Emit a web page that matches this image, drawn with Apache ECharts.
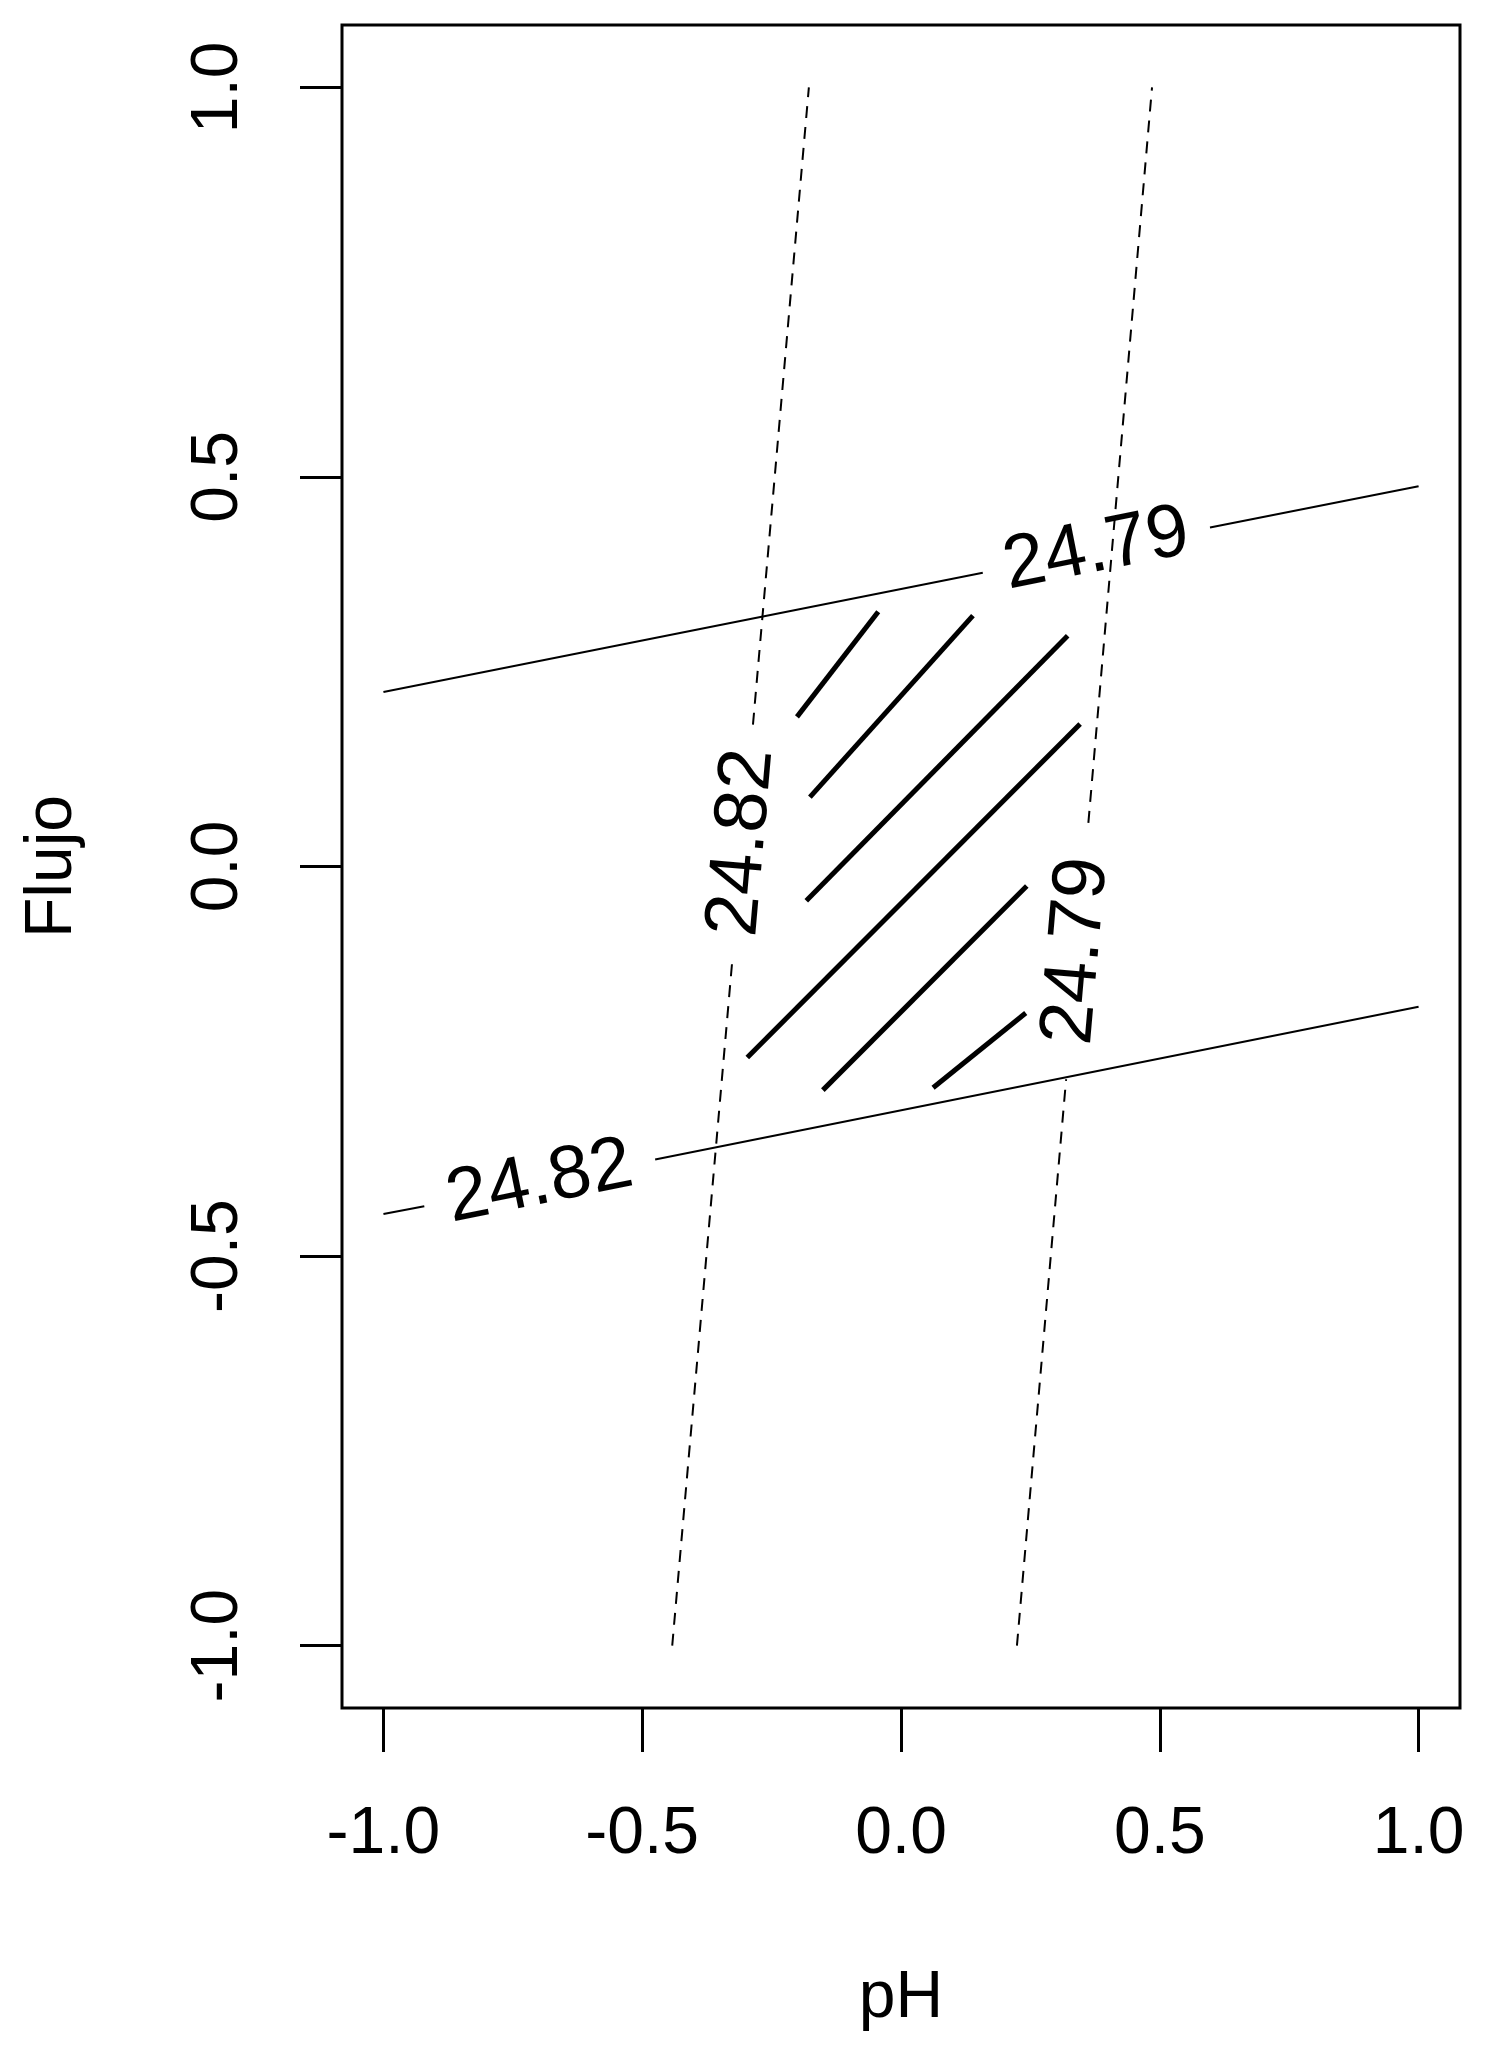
<!DOCTYPE html>
<html>
<head>
<meta charset="utf-8">
<script src="https://cdn.jsdelivr.net/npm/echarts@6/dist/echarts.min.js"></script>
<style>
  html, body { margin: 0; background: #fff; }
  #chart { width: 1507px; height: 2059px; }
</style>
</head>
<body>
<div id="chart"></div>
<script>
// axis ticks
const xTicks = [-1, -0.5, 0, 0.5, 1];
const yTicks = [-1, -0.5, 0, 0.5, 1];

// contour lines as [pH, Flujo]; the label sits in the gap between point 1 and point 2
const solidTop = [[-1.0, 0.224], [0.158, 0.377], [0.597, 0.435], [1.0, 0.488]];
const solidBottom = [[-1.0, -0.446], [-0.921, -0.436], [-0.475, -0.376], [1.0, -0.180]];
const dashedLeft = [[-0.442, -1.0], [-0.326, -0.121], [-0.286, 0.182], [-0.178, 1.0]];
const dashedRight = [[0.224, -1.0], [0.319, -0.273], [0.362, 0.056], [0.485, 1.0]];
const contourLevels = ['24.79', '24.82', '24.82', '24.79'];

// hatch strokes inside the feasible region
const hatch = [
  [[-0.201, 0.192], [-0.044, 0.327]],
  [[-0.176, 0.089], [0.139, 0.322]],
  [[-0.183, -0.044], [0.322, 0.296]],
  [[-0.297, -0.245], [0.346, 0.183]],
  [[-0.151, -0.287], [0.243, -0.025]],
  [[0.062, -0.284], [0.241, -0.188]]
];

const contours = [solidTop, solidBottom, dashedLeft, dashedRight];
const isDashed = [false, false, true, true];

const font = 'Liberation Sans, Arial, sans-serif';
const chart = echarts.init(document.getElementById('chart'));

const series = [];
contours.forEach((pts, i) => {
  // two pieces so the label has room
  [pts.slice(0, 2), pts.slice(2)].forEach(seg => {
    series.push({
      type: 'line',
      data: seg,
      symbol: 'none',
      silent: true,
      lineStyle: { color: '#000', width: 2, type: isDashed[i] ? [12, 9] : 'solid' }
    });
  });
});
hatch.forEach(seg => {
  series.push({
    type: 'line',
    data: seg,
    symbol: 'none',
    silent: true,
    lineStyle: { color: '#000', width: 5, cap: 'butt' }
  });
});

const option = {
  animation: false,
  grid: {
    left: 342, top: 25, width: 1118, height: 1683,
    show: true, borderColor: '#000', borderWidth: 3,
    outerBoundsMode: 'none'
  },
  xAxis: {
    type: 'value', min: -1.08, max: 1.08,
    name: 'pH', nameLocation: 'middle', nameGap: 258,
    nameTextStyle: { fontSize: 66, fontFamily: font, color: '#000' },
    axisLine: { show: false, onZero: false },
    splitLine: { show: false },
    axisTick: { customValues: xTicks, length: 44, lineStyle: { color: '#000', width: 3 } },
    axisLabel: {
      customValues: xTicks, margin: 94, fontSize: 66, fontFamily: font, color: '#000',
      formatter: v => v.toFixed(1)
    }
  },
  yAxis: {
    type: 'value', min: -1.08, max: 1.08,
    name: 'Flujo', nameLocation: 'middle', nameGap: 256,
    nameTextStyle: { fontSize: 66, fontFamily: font, color: '#000' },
    axisLine: { show: false, onZero: false },
    splitLine: { show: false },
    axisTick: { customValues: yTicks, length: 42, lineStyle: { color: '#000', width: 3 } },
    axisLabel: {
      customValues: yTicks, margin: 90, rotate: 90, fontSize: 66, fontFamily: font, color: '#000',
      formatter: v => v.toFixed(1)
    }
  },
  series: series
};
chart.setOption(option);

// contour labels, turned along their line
const labelData = contours.map((pts, i) => {
  const a = chart.convertToPixel({ gridIndex: 0 }, pts[1]);
  const b = chart.convertToPixel({ gridIndex: 0 }, pts[2]);
  const ang = Math.atan2(a[1] - b[1], b[0] - a[0]) * 180 / Math.PI;
  return {
    value: [(pts[1][0] + pts[2][0]) / 2, (pts[1][1] + pts[2][1]) / 2],
    label: { show: true, formatter: contourLevels[i], rotate: ang }
  };
});
series.push({
  type: 'scatter',
  data: labelData,
  symbolSize: 0,
  silent: true,
  itemStyle: { color: '#000' },
  label: {
    show: true, position: 'inside', fontSize: 75, fontFamily: font,
    color: '#000', textBorderWidth: 0, opacity: 1
  }
});
chart.setOption({ series: series });
</script>
</body>
</html>
